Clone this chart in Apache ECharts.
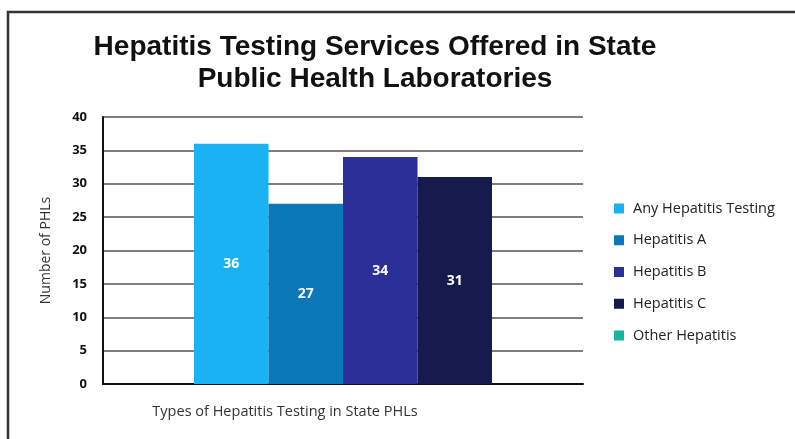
<!DOCTYPE html>
<html>
<head>
<meta charset="utf-8">
<script src="https://cdn.jsdelivr.net/npm/echarts@6/dist/echarts.min.js"></script>
<style>
  html, body { margin: 0; padding: 0; background: #fff; }
  #main { width: 795px; height: 439px; }
</style>
</head>
<body>
<div id="main"></div>
<script>
// 数据
var seriesNames = ["Any Hepatitis Testing", "Hepatitis A", "Hepatitis B", "Hepatitis C", "Other Hepatitis"];
var seriesValues = [36, 27, 34, 31, "-"];
var seriesColors = ["#1ab2f2", "#0b78b9", "#2b2f98", "#161a4c", "#19b3a2"];
var categories = ["Types of Hepatitis Testing in State PHLs"];

var chart = echarts.init(document.getElementById("main"));

var series = seriesNames.map(function (name, i) {
  return {
    name: name,
    type: "bar",
    // 最后一个没有柱子，放到隐藏的轴上
    xAxisIndex: i < 4 ? 0 : 1,
    barWidth: 74.5,
    barGap: "0%",
    itemStyle: { color: seriesColors[i] },
    label: {
      show: true,
      position: "inside",
      color: "#fff",
      fontSize: 14,
      fontWeight: "bold",
      fontFamily: "Open Sans"
    },
    data: [seriesValues[i]]
  };
});

chart.setOption({
  backgroundColor: "#fff",
  title: {
    text: "Hepatitis Testing Services Offered in State\nPublic Health Laboratories",
    left: 370,
    top: 26,
    textAlign: "center",
    textStyle: {
      fontFamily: "Liberation Sans",
      fontWeight: "bold",
      fontSize: 28,
      lineHeight: 32,
      color: "#111"
    }
  },
  graphic: [
    {
      type: "rect",
      shape: { x: 8, y: 12, width: 800, height: 440 },
      style: { fill: "none", stroke: "#333", lineWidth: 2.5 },
      silent: true
    }
  ],
  legend: {
    orient: "vertical",
    left: 609,
    top: 196,
    icon: "rect",
    itemWidth: 10,
    itemHeight: 10,
    itemGap: 16.75,
    data: seriesNames,
    textStyle: { fontSize: 14.5, color: "#222", fontFamily: "Open Sans", padding: [0, 0, 0, 4] }
  },
  grid: { left: 103, right: 212, top: 117, bottom: 55 },
  xAxis: [
    {
      type: "category",
      data: categories,
      axisLine: { lineStyle: { color: "#111", width: 2 } },
      axisTick: { show: false },
      axisLabel: {
        color: "#333",
        fontSize: 14.5,
        fontFamily: "Open Sans",
        margin: 20,
        align: "center",
        padding: [0, 116, 0, 0]
      }
    },
    {
      type: "category",
      data: categories,
      show: false
    }
  ],
  yAxis: {
    type: "value",
    min: 0,
    max: 40,
    interval: 5,
    name: "Number of PHLs",
    nameLocation: "middle",
    nameGap: 50,
    nameTextStyle: { fontSize: 14, color: "#333", fontFamily: "Open Sans" },
    axisLine: { show: true, lineStyle: { color: "#111", width: 2 } },
    axisTick: { show: false },
    axisLabel: {
      color: "#111",
      fontSize: 13,
      fontWeight: "bold",
      fontFamily: "Open Sans",
      margin: 16
    },
    splitLine: { lineStyle: { color: "#555", width: 1.5 } }
  },
  series: series
});
</script>
</body>
</html>
